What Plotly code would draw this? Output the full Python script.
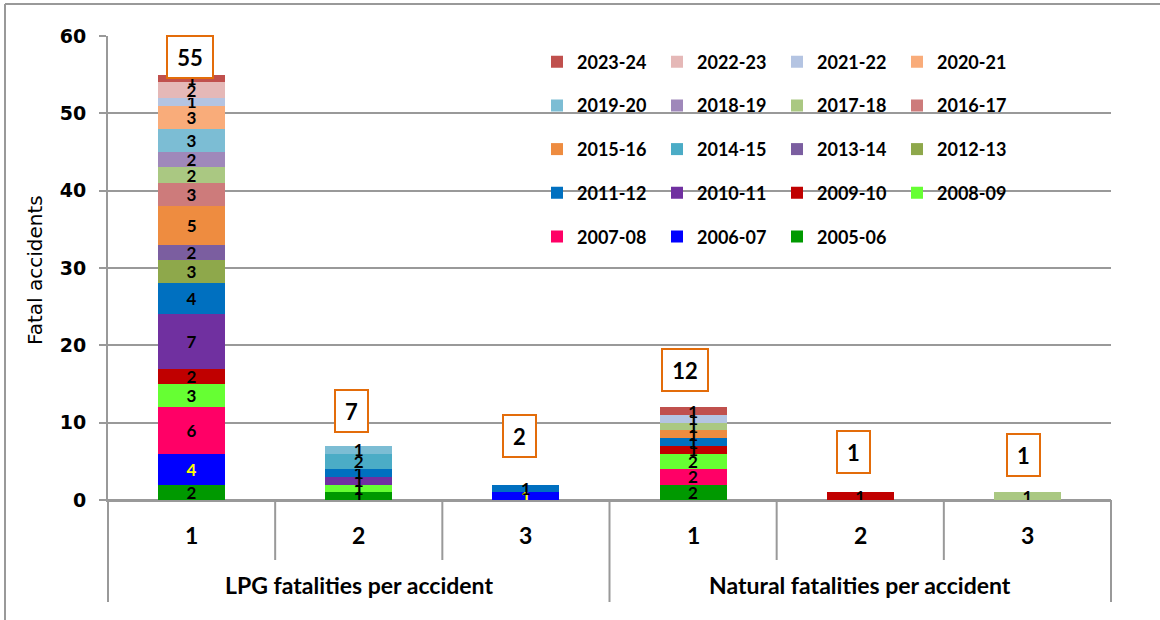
import plotly.graph_objects as go

# Fatal gas accidents, split by fatalities per accident and by season
groups = ["LPG fatalities per accident"] * 3 + ["Natural fatalities per accident"] * 3
fatalities = ["1", "2", "3", "1", "2", "3"]

seasons = ["2005-06", "2006-07", "2007-08", "2008-09", "2009-10", "2010-11",
           "2011-12", "2012-13", "2013-14", "2014-15", "2015-16", "2016-17",
           "2017-18", "2018-19", "2019-20", "2020-21", "2021-22", "2022-23",
           "2023-24"]

# accidents per season, one list per column of the chart
lpg_1 = [2, 4, 6, 3, 2, 7, 4, 3, 2, 0, 5, 3, 2, 2, 3, 3, 1, 2, 1]
lpg_2 = [1, 0, 0, 1, 0, 1, 1, 0, 0, 2, 0, 0, 0, 0, 1, 0, 0, 0, 0]
lpg_3 = [0, 1, 0, 0, 0, 0, 1, 0, 0, 0, 0, 0, 0, 0, 0, 0, 0, 0, 0]
nat_1 = [2, 0, 2, 2, 1, 0, 1, 0, 0, 0, 1, 0, 1, 0, 0, 0, 1, 0, 1]
nat_2 = [0, 0, 0, 0, 1, 0, 0, 0, 0, 0, 0, 0, 0, 0, 0, 0, 0, 0, 0]
nat_3 = [0, 0, 0, 0, 0, 0, 0, 0, 0, 0, 0, 0, 1, 0, 0, 0, 0, 0, 0]

season_colors = ["#009900", "#0000FF", "#FF0066", "#66FF33", "#C00000", "#7030A0",
                 "#0070C0", "#8EA84B", "#7B5EA0", "#4BACC6", "#EE8C40", "#CD7B7B",
                 "#AAC882", "#9F88BA", "#7CBDD4", "#F9AC7A", "#B4C4E2", "#E5B8B7",
                 "#C0504D"]
label_colors = ["#FFFF00" if s == "2006-07" else "#000000" for s in seasons]

columns = [lpg_1, lpg_2, lpg_3, nat_1, nat_2, nat_3]
totals = [sum(col) for col in columns]

GRID = "#999999"
FONT = "Lato"

# plot-area geometry in pixels, used to place legend rows, axis labels and frame lines
W, H = 1160, 620
L, R, T, B = 108, 49, 36, 120
PW, PH = W - L - R, H - T - B


def px_x(x):
    return (x - L) / PW


def px_y(y):
    return (H - B - y) / PH


fig = go.Figure()

for s, season in enumerate(seasons):
    vals = [col[s] for col in columns]
    rank = len(seasons) - 1 - s
    row = rank // 4
    fig.add_trace(go.Bar(
        x=[groups, fatalities],
        y=vals,
        name=season,
        marker=dict(color=season_colors[s], line=dict(width=0)),
        text=[str(v) if v else "" for v in vals],
        textposition="inside",
        insidetextanchor="middle",
        textangle=0,
        textfont=dict(family=FONT, size=17, color=label_colors[s], weight="bold"),
        legend="legend" if row == 0 else f"legend{row + 1}",
        legendrank=rank,
        hoverinfo="skip",
    ))

# boxed totals above every column
total_shift = [(-2, -4), (-7, 13), (-6, 27), (-8, 15), (-7, 18), (-4, 15)]
for i, tot in enumerate(totals):
    dx, dy = total_shift[i]
    fig.add_annotation(
        x=i, y=tot, xref="x", yref="y",
        text=f"<b>{tot}</b>", showarrow=False,
        yanchor="bottom", xshift=dx, yshift=dy,
        width=13 * len(str(tot)) + 4, height=26,
        font=dict(family=FONT, size=22, color="#000000"),
        bgcolor="#FFFFFF", bordercolor="#E36C0A", borderwidth=2, borderpad=7,
    )

# two-level category labels under the axis
n_cat = len(fatalities)
for i, lab in enumerate(fatalities):
    fig.add_annotation(
        x=i, xref="x", y=px_y(535), yref="paper", yanchor="middle",
        text=f"<b>{lab}</b>", showarrow=False,
        font=dict(family=FONT, size=23, color="#000000"),
    )
group_names = list(dict.fromkeys(groups))
for g in group_names:
    idx = [i for i, name in enumerate(groups) if name == g]
    fig.add_annotation(
        x=sum(idx) / len(idx), xref="x", y=px_y(585), yref="paper", yanchor="middle",
        text=f"<b>{g}</b>", showarrow=False,
        font=dict(family=FONT, size=23, color="#000000"),
    )

# y-axis title
fig.add_annotation(
    x=px_x(35), xref="paper", y=px_y(270), yref="paper",
    xanchor="center", yanchor="middle", textangle=-90,
    text="Fatal accidents", showarrow=False,
    font=dict(family="DejaVu Sans", size=20, color="#000000"),
)

# dividers: short ones between counts, full-depth ones around each group
for i in range(n_cat + 1):
    edge = i == 0 or i == n_cat or groups[i] != groups[i - 1]
    fig.add_shape(type="line", xref="paper", yref="paper",
                  x0=i / n_cat, x1=i / n_cat, y0=0,
                  y1=px_y(602 if edge else 560),
                  line=dict(color=GRID, width=2))

# legend laid out as five rows of four
legends = {}
for r in range(5):
    key = "legend" if r == 0 else f"legend{r + 1}"
    legends[key] = dict(
        orientation="h", x=px_x(537), xanchor="left",
        y=px_y(62 + 43.7 * r), yanchor="middle",
        bgcolor="rgba(0,0,0,0)", borderwidth=0,
        entrywidth=75, entrywidthmode="pixels", traceorder="normal",
        font=dict(family=FONT, size=18, color="#000000", weight="bold"),
        itemclick=False, itemdoubleclick=False,
    )

# outer frame (top and left edges)
fig.add_shape(type="line", xref="paper", yref="paper",
              x0=px_x(5), x1=px_x(W), y0=px_y(4), y1=px_y(4),
              line=dict(color=GRID, width=2))
fig.add_shape(type="line", xref="paper", yref="paper",
              x0=px_x(5), x1=px_x(5), y0=px_y(4), y1=px_y(H),
              line=dict(color=GRID, width=2))

fig.update_layout(
    width=W, height=H,
    margin=dict(l=L, r=R, t=T, b=B, autoexpand=False),
    paper_bgcolor="#FFFFFF", plot_bgcolor="#FFFFFF",
    barmode="stack", bargap=0.6,
    uniformtext=dict(minsize=17, mode="show"),
    font=dict(family=FONT, color="#000000"),
    xaxis=dict(
        type="multicategory",
        showline=True, linecolor=GRID, linewidth=2,
        ticks="", showticklabels=False, showdividers=False,
        showgrid=False, zeroline=False,
    ),
    yaxis=dict(
        range=[0, 60], dtick=10,
        showline=True, linecolor=GRID, linewidth=2,
        ticks="outside", ticklen=7, tickcolor=GRID, tickwidth=2,
        ticklabelstandoff=9,
        showgrid=True, gridcolor=GRID, gridwidth=2,
        zeroline=True, zerolinecolor=GRID, zerolinewidth=2,
        tickfont=dict(family="DejaVu Sans", size=19, color="#000000", weight="bold"),
    ),
    **legends,
)

fig.write_html("out.html")
